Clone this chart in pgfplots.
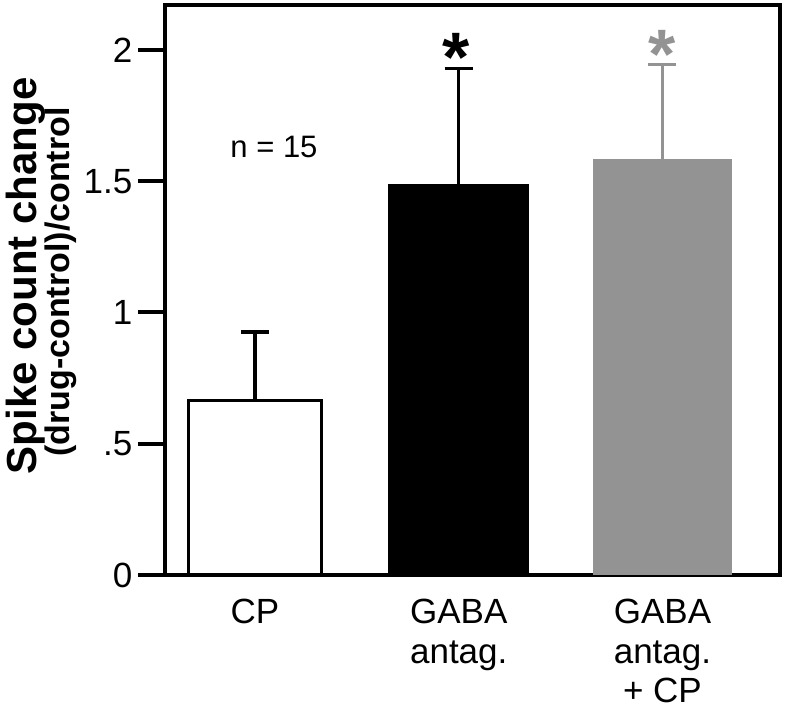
\documentclass[border=0pt]{standalone}
\usepackage{pgfplots}
\pgfplotsset{compat=1.18}
\usepackage{fontspec}
\setmainfont{Liberation Sans}
\definecolor{gbar}{RGB}{147,147,147}
\begin{document}
\begin{tikzpicture}
\begin{axis}[
  width=615pt, height=570pt, scale only axis,
  xmin=-0.442, xmax=2.577, ymin=0, ymax=2.171,
  axis line style={line width=4pt},
  xtick={0,1,2},
  xticklabels={CP,{GABA\\antag.},{GABA\\antag.\\+ CP}},
  x tick style={draw=none},
  ytick={0,0.5,1,1.5,2},
  yticklabels={0,.5,1,1.5,2},
  y tick style={line width=4pt, black},
  ytick pos=left,
  tick align=outside,
  major tick length=27pt,
  yticklabel style={font=\fontsize{35}{42}\selectfont, inner sep=0.55em},
  xticklabel style={font=\fontsize{35}{39.5}\selectfont, align=center, inner sep=1pt, yshift=4pt},
  ybar, bar shift=0pt,
  clip=false,
]
\addplot[fill=white, draw=black, line width=3.3pt, bar width=0.65,
  error bars/.cd, y dir=plus, y explicit, error mark=|,
  error bar style={line width=3.5pt, black},
  error mark options={line width=3.5pt, mark size=14pt, black}]
  coordinates {(0,0.665) +- (0,0.26)};
\addplot[fill=black, draw=none, bar width=0.69,
  error bars/.cd, y dir=plus, y explicit, error mark=|,
  error bar style={line width=3.5pt, black},
  error mark options={line width=3.5pt, mark size=14pt, black}]
  coordinates {(1,1.49) +- (0,0.44)};
\addplot[fill=gbar, draw=none, bar width=0.68,
  error bars/.cd, y dir=plus, y explicit, error mark=|,
  error bar style={line width=3.5pt, gbar},
  error mark options={line width=3.5pt, mark size=14pt, gbar}]
  coordinates {(2,1.585) +- (0,0.36)};
\node[font=\fontsize{31}{31}\selectfont, anchor=base] at (axis cs:0.093,1.592) {n = 15};
\node[font=\bfseries\fontsize{70}{70}\selectfont, anchor=north, inner sep=0] at (axis cs:0.988,2.065) {*};
\node[font=\bfseries\fontsize{70}{70}\selectfont, anchor=north, inner sep=0, text=gbar] at (axis cs:2.0,2.076) {*};
\node[rotate=90, anchor=base, inner sep=0, font=\bfseries\fontsize{42}{42}\selectfont] at ([xshift=-128pt]rel axis cs:0,0.525) {Spike count change};
\node[rotate=90, anchor=base, inner sep=0, font=\bfseries\fontsize{34}{34}\selectfont] at ([xshift=-95pt]rel axis cs:0,0.514) {(drug-control)/control};
\end{axis}
\pgfresetboundingbox
\path[use as bounding box] ([xshift=-165pt,yshift=5pt]current axis.north west) rectangle ([xshift=5pt,yshift=-135pt]current axis.south east);
\end{tikzpicture}
\end{document}
